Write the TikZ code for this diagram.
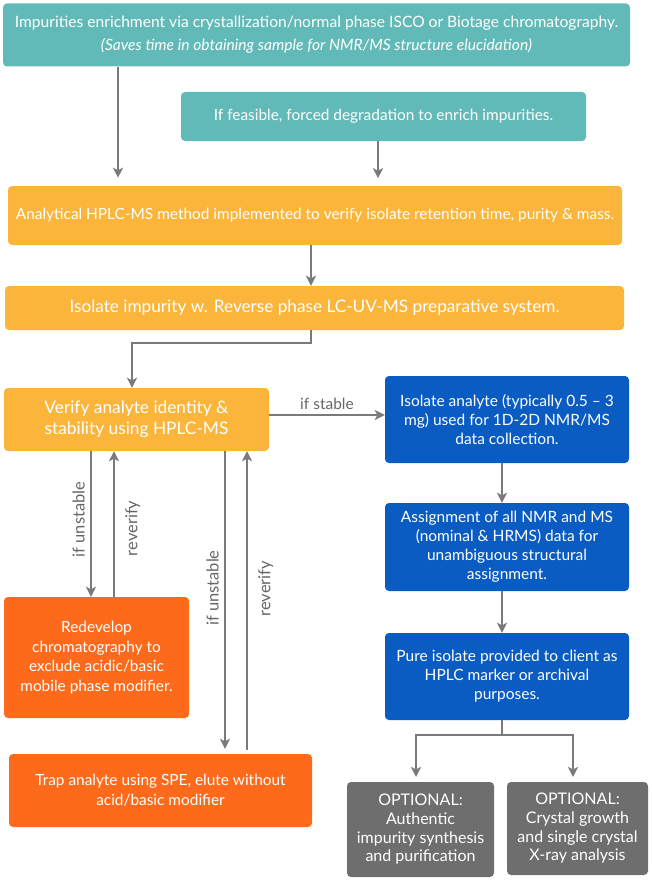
\documentclass[tikz,border=0pt]{standalone}
\usepackage{fontspec}
\setmainfont{Lato}
\usetikzlibrary{arrows.meta,calc}
\definecolor{cteal}{HTML}{62BAB8}
\definecolor{camber}{HTML}{FCB53B}
\definecolor{cblue}{HTML}{0A5CC2}
\definecolor{corange}{HTML}{FE6A1B}
\definecolor{cgray}{HTML}{6E6E6E}
\definecolor{cline}{HTML}{7A7A7A}
\definecolor{clabel}{HTML}{666666}
\tikzset{
  box/.style={rounded corners=4pt, inner sep=0pt, text=white, align=center, font=\fontsize{15.6}{23}\selectfont},
  tealbox/.style={box, fill=cteal},
  amberbox/.style={box, fill=camber},
  bluebox/.style={box, fill=cblue, font=\fontsize{15.5}{19}\selectfont},
  orangebox/.style={box, fill=corange, font=\fontsize{15.4}{19.5}\selectfont},
  graybox/.style={box, fill=cgray, font=\fontsize{16}{18.7}\selectfont},
  conn/.style={draw=cline, line width=2.5pt, -{Stealth[length=10pt,width=10pt,inset=2.5pt]}},
  plainconn/.style={draw=cline, line width=2.5pt},
  lbl/.style={text=clabel, font=\fontsize{15.5}{17}\selectfont, inner sep=0pt},
  rlbl/.style={text=clabel, font=\fontsize{16.5}{18}\selectfont, inner sep=0pt, rotate=90},
}
\begin{document}
\begin{tikzpicture}[x=1pt,y=-1pt]
\useasboundingbox (0,0) rectangle (652,880);
% boxes
\node[tealbox, minimum width=627pt, minimum height=63pt] (A) at (316.5,35) {Impurities enrichment via crystallization/normal phase ISCO or Biotage chromatography.\\ \textit{(Saves time in obtaining sample for NMR/MS structure elucidation)}};
\node[tealbox, minimum width=405pt, minimum height=49pt, font=\fontsize{15.4}{18}\selectfont] (B) at (383.5,116.5) {If feasible, forced degradation to enrich impurities.};
\node[amberbox, minimum width=614pt, minimum height=59pt, font=\fontsize{15.4}{18}\selectfont] (C) at (315,215.5) {Analytical HPLC-MS method implemented to verify isolate retention time, purity \& mass.};
\node[amberbox, minimum width=619pt, minimum height=44pt, font=\fontsize{17.2}{20}\selectfont] (D) at (314.5,308) {Isolate impurity w. Reverse phase LC-UV-MS preparative system.};
\node[amberbox, minimum width=265pt, minimum height=63pt, font=\fontsize{17.3}{21}\selectfont] (E) at (136.5,419.5) {Verify analyte identity \&\\ stability using HPLC-MS};
\node[bluebox, minimum width=244pt, minimum height=87pt] (F) at (507,419.5) {Isolate analyte (typically 0.5 – 3\\ mg) used for 1D-2D NMR/MS\\ data collection.};
\node[bluebox, minimum width=244pt, minimum height=88pt] (G) at (507,547) {Assignment of all NMR and MS\\ (nominal \& HRMS) data for\\ unambiguous structural\\ assignment.};
\node[bluebox, minimum width=244pt, minimum height=87pt] (H) at (507,676.5) {Pure isolate provided to client as\\ HPLC marker or archival\\ purposes.};
\node[graybox, minimum width=147pt, minimum height=95pt] (I) at (420.5,829.5) {OPTIONAL:\\ Authentic\\ impurity synthesis\\ and purification};
\node[graybox, minimum width=141pt, minimum height=93pt] (J) at (577.5,828.5) {OPTIONAL:\\ Crystal growth\\ and single crystal\\ X-ray analysis};
\node[orangebox, minimum width=185pt, minimum height=121pt] (K) at (96.5,657.5) {Redevelop\\ chromatography to\\ exclude acidic/basic\\ mobile phase modifier.};
\node[orangebox, minimum width=303pt, minimum height=73pt, font=\fontsize{15.4}{20}\selectfont] (L) at (160.5,790.5) {Trap analyte using SPE, elute without\\ acid/basic modifier};
% connectors
\draw[conn] (A.south -| 118,0) -- ++(0,111);
\draw[conn] (B.south -| 378,0) -- ++(0,37);
\draw[conn] (C.south -| 311,0) -- (D.north -| 311,0);
\coordinate (d1) at (311,343);
\coordinate (d2) at (132,343);
\draw[conn] (D.south -| d1) -- (d1) -- (d2) -- (E.north -| d2);
\draw[conn] (E.east |- 0,415) -- (F.west |- 0,415) node[lbl, midway, above=4pt] {if stable};
\draw[conn] (E.south -| 91,0) -- (K.north -| 91,0) node[rlbl, pos=0.47, above=5pt] {if unstable};
\draw[conn] (K.north -| 114,0) -- (E.south -| 114,0) node[rlbl, pos=0.47, below=10pt] {reverify};
\draw[conn] (E.south -| 225,0) -- ($(L.north -| 225,0)+(0,-5)$) node[rlbl, pos=0.46, above=5pt] {if unstable};
\draw[conn] ($(L.north -| 247,0)+(0,-4)$) -- (E.south -| 247,0) node[rlbl, pos=0.54, below=10pt] {reverify};
\draw[conn] (F.south -| 502,0) -- (G.north -| 502,0);
\draw[conn] (G.south -| 502,0) -- (H.north -| 502,0);
\coordinate (h1) at (502,735);
\coordinate (h2) at (416,735);
\coordinate (h3) at (573,735);
\draw[plainconn] (H.south -| h1) -- (h1);
\draw[conn] (h1) -- (h2) -- ++(0,42);
\draw[conn] (h1) -- (h3) -- ++(0,42);
\end{tikzpicture}
\end{document}
